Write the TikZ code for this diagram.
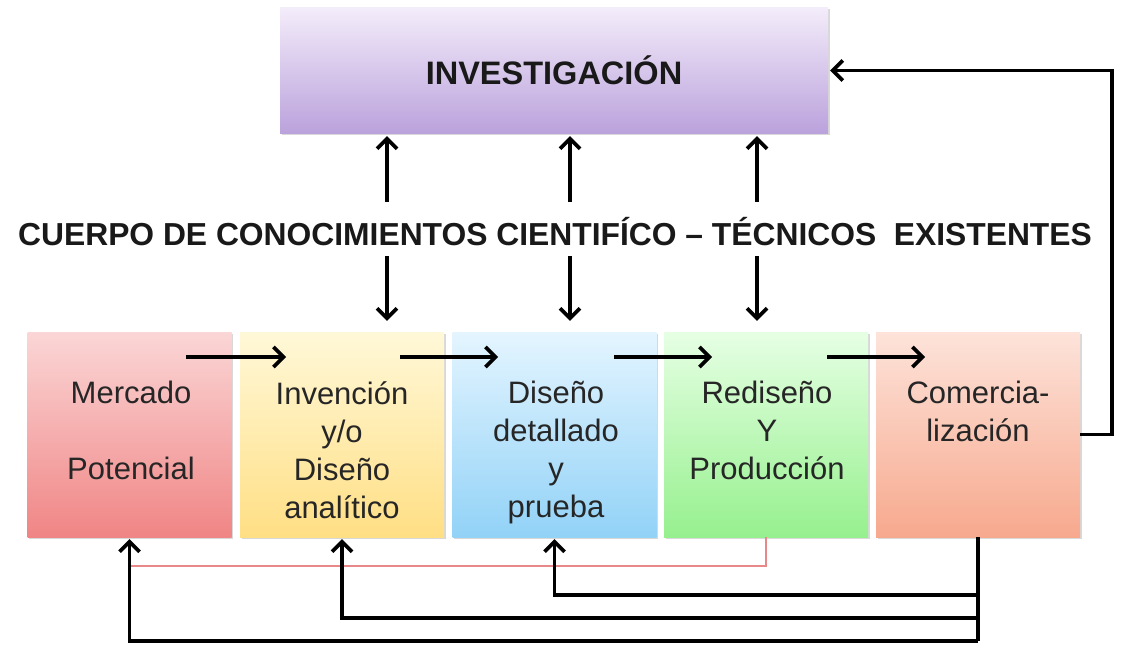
\documentclass[tikz,border=0pt]{standalone}
\usepackage{fontspec}
\setmainfont{Liberation Sans}
\usetikzlibrary{arrows.meta,shadows,calc}
\definecolor{redT}{HTML}{FBD6D6}\definecolor{redB}{HTML}{F08585}
\definecolor{yelT}{HTML}{FFF8D8}\definecolor{yelB}{HTML}{FFDF85}
\definecolor{bluT}{HTML}{E4F5FF}\definecolor{bluB}{HTML}{92D2F7}
\definecolor{grnT}{HTML}{E6FFE4}\definecolor{grnB}{HTML}{96F08E}
\definecolor{orgT}{HTML}{FDE3DA}\definecolor{orgB}{HTML}{F7A98E}
\definecolor{purT}{HTML}{F3ECFA}\definecolor{purB}{HTML}{BBA2DC}
\definecolor{thinred}{HTML}{E88888}
\tikzset{
  box/.style={rectangle, inner sep=0pt, minimum width=204pt, minimum height=205pt,
    drop shadow={shadow xshift=1.5pt, shadow yshift=-1.5pt, fill=black!30, opacity=0.5}},
  btext/.style={anchor=north, align=center, font=\fontsize{31}{38}\selectfont, text=black!85, inner sep=0pt},
  arr/.style={line width=3.6pt, -{Straight Barb[length=10pt,width=20pt,line width=3.6pt]}},
  fb/.style={line width=3.6pt, -{Straight Barb[length=10pt,width=20pt,line width=3.6pt]}},
  thin/.style={draw=thinred, line width=1.3pt}
}
\begin{document}
\begin{tikzpicture}[x=1pt,y=-1pt]
\useasboundingbox[fill=white] (0,0) rectangle (1146,661);
% top box
\node[rectangle, minimum width=548pt, minimum height=125pt, top color=purT, bottom color=purB,
  drop shadow={shadow xshift=1.5pt, shadow yshift=-1.5pt, fill=black!30, opacity=0.5},
  font=\fontsize{32.5}{36}\selectfont\bfseries, text=black!90] (T) at (554,70.5) {INVESTIGACIÓN};
% middle text
\node[font=\fontsize{31.8}{36}\selectfont\bfseries, inner sep=0pt, text=black!90] (K) at (555,232)
  {CUERPO DE CONOCIMIENTOS CIENTIFÍCO – TÉCNICOS \ EXISTENTES};
% bottom boxes
\node[box, top color=redT, bottom color=redB] (A) at (129.5,434.5) {};
\node[box, top color=yelT, bottom color=yelB] (B) at (342,434.5) {};
\node[box, top color=bluT, bottom color=bluB] (C) at (554.5,434.5) {};
\node[box, top color=grnT, bottom color=grnB] (D) at (766,434.5) {};
\node[box, top color=orgT, bottom color=orgB] (E) at (978,434.5) {};
% texts
\node[btext] (tA) at (131,381) {Mercado\\[38pt]Potencial};
\node[btext] (tB) at (342,381) {Invención\\y/o\\Diseño\\analítico};
\node[btext] (tC) at (556,381) {Diseño\\detallado\\y\\prueba};
\node[btext] (tD) at (767,381) {Rediseño\\Y\\Producción};
\node[btext] (tE) at (978,381) {Comercia-\\lización};
% vertical arrows
\foreach \x/\n in {387/1,570/2,757/3}{
  \coordinate (u\n) at (\x,202);
  \coordinate (d\n) at (\x,256);
  \draw[arr, shorten >=3pt] (u\n) -- (u\n |- T.south) ;
  \draw[arr, shorten >=11pt] (d\n) -- (d\n |- A.north);
}
% horizontal arrows
\coordinate (h1) at (186,357); \coordinate (h1e) at (286,357);
\coordinate (h2) at (400,357); \coordinate (h2e) at (498,357);
\coordinate (h3) at (614,357); \coordinate (h3e) at (712,357);
\coordinate (h4) at (827,357); \coordinate (h4e) at (925,357);
\draw[arr] (h1) -- (h1e);
\draw[arr] (h2) -- (h2e);
\draw[arr] (h3) -- (h3e);
\draw[arr] (h4) -- (h4e);
% thin red feedback
\coordinate (r1) at (0,566);
\draw[thin] (D.south) -- (D.south |- r1) -- (A.south |- r1) -- ([yshift=-3pt]A.south);
% right feedback
\coordinate (rx) at (1112,0);
\draw[arr, shorten >=2pt] (E.east) -- (E.east -| rx) |- (T.east);
% bottom feedbacks
\coordinate (y1) at (0,595);
\coordinate (y2) at (0,618);
\coordinate (y3) at (0,641);
\draw[line width=3.6pt] (E.south) -- (E.south |- y3);
\draw[fb] (E.south |- y1) -- (C.south |- y1) -- ([yshift=-2pt]C.south);
\draw[fb] (E.south |- y2) -- (B.south |- y2) -- ([yshift=-2pt]B.south);
\draw[fb] (E.south |- y3) -- (A.south |- y3) -- ([yshift=-2pt]A.south);
\end{tikzpicture}
\end{document}
